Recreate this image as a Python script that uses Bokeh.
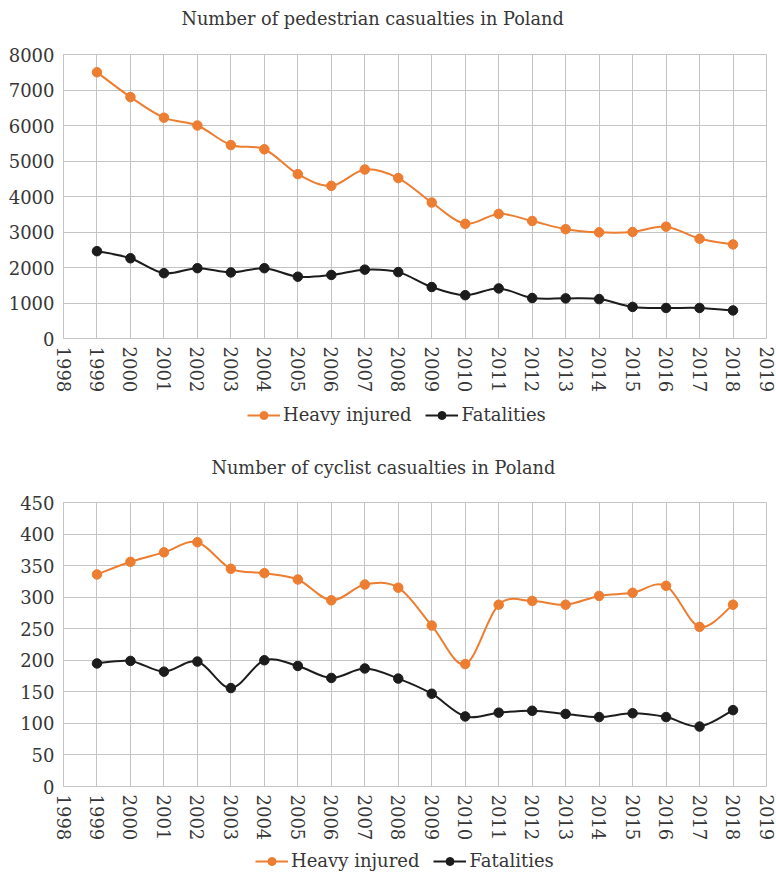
from bokeh.plotting import figure
from bokeh.layouts import column
from bokeh.models import Range1d, FixedTicker, Legend, LegendItem, ColumnDataSource, Label
from bokeh.embed import file_html
from bokeh.resources import INLINE

years = list(range(1999, 2019))
x_ticks = list(range(1998, 2020))

ped_heavy = [7500, 6800, 6220, 6000, 5450, 5330, 4630, 4300, 4760, 4520,
             3830, 3230, 3510, 3310, 3080, 2990, 3000, 3150, 2810, 2650]
ped_fatal = [2460, 2260, 1840, 1980, 1860, 1980, 1740, 1790, 1940, 1870,
             1450, 1220, 1410, 1140, 1130, 1110, 890, 860, 860, 790]

cyc_heavy = [336, 356, 371, 387, 345, 338, 328, 295, 320, 315,
             255, 194, 288, 294, 288, 302, 307, 318, 253, 288]
cyc_fatal = [195, 199, 182, 198, 156, 200, 191, 172, 187, 171,
             147, 111, 117, 120, 115, 110, 116, 110, 95, 121]

series_labels = ["Heavy injured", "Fatalities"]
title1 = "Number of pedestrian casualties in Poland"
title2 = "Number of cyclist casualties in Poland"

ORANGE = "#ED7D31"
BLACK = "#1c1c1c"
GRID = "#c4c4c4"
TXT = "#363636"
FONT = "DejaVu Serif"
COLORS = [ORANGE, BLACK]
W = 776


def smooth_source(x, y):
    n = len(x)
    d = dict(x0=[], y0=[], x1=[], y1=[], cx0=[], cy0=[], cx1=[], cy1=[])
    for i in range(n - 1):
        a = i - 1 if i > 0 else i
        b = i + 2 if i + 2 < n else i + 1
        d["x0"].append(x[i]); d["y0"].append(y[i])
        d["x1"].append(x[i + 1]); d["y1"].append(y[i + 1])
        d["cx0"].append(x[i] + (x[i + 1] - x[a]) / 6)
        d["cy0"].append(y[i] + (y[i + 1] - y[a]) / 6)
        d["cx1"].append(x[i + 1] - (x[b] - x[i]) / 6)
        d["cy1"].append(y[i + 1] - (y[b] - y[i]) / 6)
    return ColumnDataSource(d)


def blank_strip(height):
    q = figure(width=W, height=height, output_backend="svg",
               toolbar_location=None, x_range=Range1d(0, 1), y_range=Range1d(0, 1),
               x_axis_type=None, y_axis_type=None, min_border=0,
               min_border_left=0, min_border_right=0, min_border_top=0,
               min_border_bottom=0)
    q.grid.visible = False
    q.outline_line_color = None
    q.background_fill_color = "white"
    q.border_fill_color = "white"
    return q


def make_title_strip(text, height, tx, ty):
    q = blank_strip(height)
    q.add_layout(Label(x=tx, y=ty, x_units="screen", y_units="screen", text=text,
                       text_font=FONT, text_font_size="17.7px", text_color=TXT,
                       text_align="left", text_baseline="middle"))
    return q


def make_chart(heavy, fatal, ymax, ystep, height, left, right, top, bottom):
    p = figure(width=W, height=height, output_backend="svg",
               toolbar_location=None, x_range=Range1d(1998, 2019),
               y_range=Range1d(0, ymax), min_border_left=left,
               min_border_right=right, min_border_top=top,
               min_border_bottom=bottom)
    p.outline_line_color = GRID
    p.background_fill_color = "white"
    p.border_fill_color = "white"

    for ax in (p.xaxis, p.yaxis):
        ax.axis_line_color = GRID
        ax.major_tick_line_color = None
        ax.minor_tick_line_color = None
        ax.major_tick_out = 0
        ax.major_tick_in = 0
        ax.minor_tick_out = 0
        ax.major_label_text_font = FONT
        ax.major_label_text_font_size = "18px"
        ax.major_label_text_color = TXT
    p.xaxis.ticker = FixedTicker(ticks=x_ticks)
    p.yaxis.ticker = FixedTicker(ticks=list(range(0, ymax + 1, ystep)))
    p.xaxis.major_label_orientation = "vertical"
    p.xaxis.major_label_standoff = 8
    p.yaxis.major_label_standoff = 9
    p.xgrid.ticker = FixedTicker(ticks=x_ticks)
    p.xgrid.grid_line_color = GRID
    p.ygrid.grid_line_color = GRID

    for vals, col in zip((heavy, fatal), COLORS):
        src = smooth_source(years, vals)
        p.bezier(x0="x0", y0="y0", x1="x1", y1="y1", cx0="cx0", cy0="cy0",
                 cx1="cx1", cy1="cy1", source=src, line_color=col, line_width=2)
        p.scatter(years, vals, size=9.5, fill_color=col, line_color=col)
    return p


def make_legend_strip(height, heavy, fatal, legend_xy):
    q = blank_strip(height)
    items = []
    for lab, vals, col in zip(series_labels, (heavy, fatal), COLORS):
        # series lie outside this strip's visible range; used only for legend glyphs
        ln = q.line(x=years, y=vals, line_color=col, line_width=2)
        sc = q.scatter(x=years, y=vals, size=8, fill_color=col, line_color=col)
        items.append(LegendItem(label=lab, renderers=[ln, sc]))
    leg = Legend(items=items, orientation="horizontal", location=legend_xy,
                 border_line_color=None, background_fill_alpha=0,
                 padding=0, margin=0, spacing=14, glyph_width=33,
                 glyph_height=20, label_height=20, label_standoff=3,
                 label_text_font=FONT, label_text_font_size="18px",
                 label_text_color=TXT)
    q.add_layout(leg, "center")
    return q


t1 = make_title_strip(title1, 34, 118, 16)
p1 = make_chart(ped_heavy, ped_fatal, 8000, 1000, 367, 63, 10, 20, 63)
l1 = make_legend_strip(35, ped_heavy, ped_fatal, (184, 11))
t2 = make_title_strip(title2, 44, 148, 13)
p2 = make_chart(cyc_heavy, cyc_fatal, 450, 50, 369, 63, 10, 22, 63)
l2 = make_legend_strip(22, cyc_heavy, cyc_fatal, (192, 0))

layout = column(t1, p1, l1, t2, p2, l2, spacing=0)
open("out.html", "w").write(file_html(layout, INLINE))
